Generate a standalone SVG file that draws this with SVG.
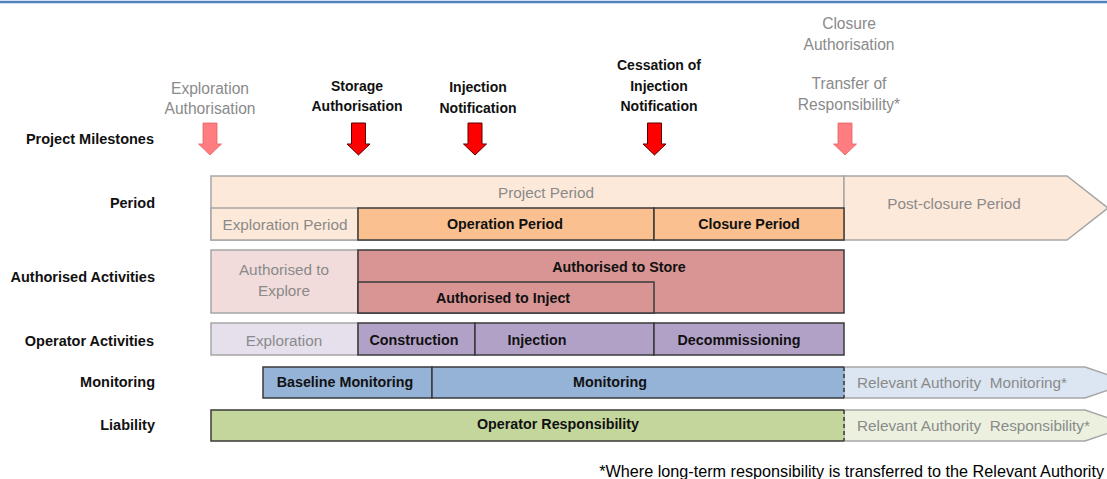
<svg xmlns="http://www.w3.org/2000/svg" width="1107" height="479" viewBox="0 0 1107 479">
<style>
text{font-family:"Liberation Sans",Arial,sans-serif;dominant-baseline:central;text-anchor:middle;white-space:pre}
.lbl{font-weight:bold;font-size:14.5px;fill:#111;text-anchor:end}
.ms{font-weight:bold;font-size:14px;fill:#111}
.msg{font-size:15.6px;fill:#8a8a8a}
.b{font-weight:bold;font-size:14.3px;fill:#111}
.g{font-size:15.3px;fill:#8a8a8a}
.lt{stroke:#a6a6a6;stroke-width:1.5}
.dk{stroke:#3a3a3a;stroke-width:1.5}
.arL{fill:#ff7c80;stroke:#e06666;stroke-width:0.8}
.arD{fill:#ff0000;stroke:#5a0000;stroke-width:1}
</style>
<defs>
<path id="arrow" d="M-7,0 H7 V21 H11.5 L0,32 L-11.5,21 H-7 Z"/>
</defs>
<line x1="0" y1="2" x2="1107" y2="2" stroke="#4f81bd" stroke-width="2.5"/>

<g id="row-labels">
<text class="lbl" x="154" y="139">Project Milestones</text>
<text class="lbl" x="155" y="203">Period</text>
<text class="lbl" x="155" y="277">Authorised Activities</text>
<text class="lbl" x="154" y="341">Operator Activities</text>
<text class="lbl" x="155" y="382">Monitoring</text>
<text class="lbl" x="155" y="425">Liability</text>
</g>

<g id="milestones">
<g id="ms-exploration">
<text class="msg" x="210" y="88">Exploration</text>
<text class="msg" x="210" y="108">Authorisation</text>
<use href="#arrow" x="210" y="123" class="arL"/>
</g>
<g id="ms-storage">
<text class="ms" x="357" y="86">Storage</text>
<text class="ms" x="357" y="106">Authorisation</text>
<use href="#arrow" x="358.5" y="123" class="arD"/>
</g>
<g id="ms-injection">
<text class="ms" x="478" y="87">Injection</text>
<text class="ms" x="478" y="108">Notification</text>
<use href="#arrow" x="475" y="123" class="arD"/>
</g>
<g id="ms-cessation">
<text class="ms" x="659" y="65">Cessation of</text>
<text class="ms" x="659" y="86">Injection</text>
<text class="ms" x="659" y="106">Notification</text>
<use href="#arrow" x="654.5" y="123" class="arD"/>
</g>
<g id="ms-closure">
<text class="msg" x="849" y="23">Closure</text>
<text class="msg" x="849" y="44">Authorisation</text>
<text class="msg" x="849" y="83">Transfer of</text>
<text class="msg" x="849" y="104">Responsibility*</text>
<use href="#arrow" x="845" y="123" class="arL"/>
</g>
</g>

<g id="period">
<g id="project-period">
<rect x="211" y="176" width="633" height="64" fill="#fde9d9" class="lt"/>
<text class="g" x="546" y="192">Project Period</text>
</g>
<g id="post-closure">
<path d="M844,176 H1067 L1108,208 L1067,240 H844 Z" fill="#fde9d9" class="lt"/>
<text class="g" x="954" y="203">Post-closure Period</text>
</g>
<g id="exploration-period">
<rect x="211" y="208" width="147" height="32" fill="#fde9d9" class="lt"/>
<text class="g" x="285" y="224">Exploration Period</text>
</g>
<g id="operation-period">
<rect x="358" y="208" width="296" height="32" fill="#fac090" class="dk"/>
<text class="b" x="505" y="224">Operation Period</text>
</g>
<g id="closure-period">
<rect x="654" y="208" width="190" height="32" fill="#fac090" class="dk"/>
<text class="b" x="749" y="224">Closure Period</text>
</g>
</g>

<g id="authorised">
<g id="auth-explore">
<rect x="211" y="250" width="147" height="63" fill="#f2dcdb" class="lt"/>
<text class="g" x="284" y="269">Authorised to</text>
<text class="g" x="284" y="290">Explore</text>
</g>
<g id="auth-store">
<rect x="358" y="250" width="486" height="63" fill="#d99594" class="dk"/>
<text class="b" x="619" y="267">Authorised to Store</text>
</g>
<g id="auth-inject">
<rect x="358" y="282" width="296" height="31" fill="#d99594" class="dk"/>
<text class="b" x="503" y="298">Authorised to Inject</text>
</g>
</g>

<g id="operator">
<g id="op-exploration">
<rect x="211" y="323" width="147" height="32" fill="#e5e0ec" class="lt"/>
<text class="g" x="284" y="340">Exploration</text>
</g>
<g id="op-construction">
<rect x="358" y="323" width="117" height="32" fill="#b2a1c7" class="dk"/>
<text class="b" x="414" y="340">Construction</text>
</g>
<g id="op-injection">
<rect x="475" y="323" width="179" height="32" fill="#b2a1c7" class="dk"/>
<text class="b" x="537" y="340">Injection</text>
</g>
<g id="op-decommissioning">
<rect x="654" y="323" width="190" height="32" fill="#b2a1c7" class="dk"/>
<text class="b" x="739" y="340">Decommissioning</text>
</g>
</g>

<g id="monitoring">
<g id="ra-monitoring">
<path d="M844,367 H1085 L1130,382.5 L1085,398 H844 Z" fill="#dce6f2" class="lt"/>
<text class="g" x="857" y="382" style="text-anchor:start">Relevant Authority  Monitoring*</text>
</g>
<g id="baseline-monitoring">
<rect x="263" y="367" width="169" height="31" fill="#95b3d7" class="dk"/>
<text class="b" x="345" y="382">Baseline Monitoring</text>
</g>
<g id="op-monitoring">
<path d="M844,398 H432 V367 H844" fill="#95b3d7" class="dk"/>
<text class="b" x="610" y="382">Monitoring</text>
</g>
</g>

<g id="liability">
<g id="ra-responsibility">
<path d="M844,410 H1085 L1130,425.5 L1085,441 H844 Z" fill="#ebf1de" class="lt"/>
<text class="g" x="857" y="425" style="text-anchor:start">Relevant Authority  Responsibility*</text>
</g>
<g id="op-responsibility">
<path d="M844,441 H211 V410 H844" fill="#c3d69b" class="dk"/>
<text class="b" x="558" y="424">Operator Responsibility</text>
</g>
</g>

<g id="connectors">
<line x1="844" y1="367" x2="844" y2="398" stroke="#3a3a3a" stroke-width="1.5" stroke-dasharray="4,3"/>
<line x1="844" y1="410" x2="844" y2="441" stroke="#3a3a3a" stroke-width="1.5" stroke-dasharray="4,3"/>
</g>

<text x="1104" y="477" style="font-family:'Liberation Sans',Arial,sans-serif;font-size:16.2px;fill:#000;text-anchor:end;dominant-baseline:alphabetic">*Where long-term responsibility is transferred to the Relevant Authority</text>
</svg>
